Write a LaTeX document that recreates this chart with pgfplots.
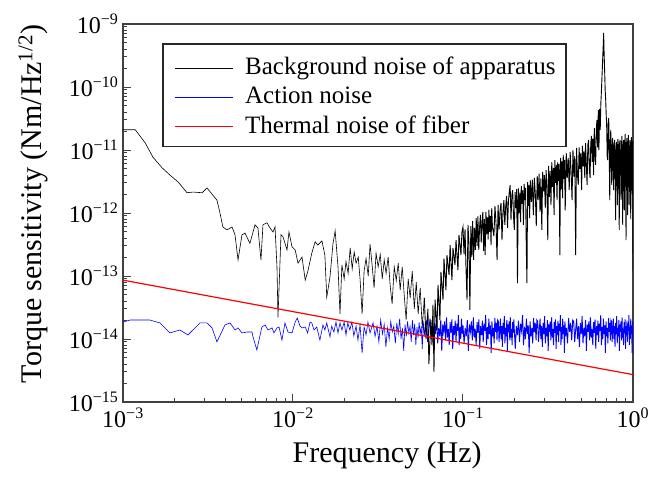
\documentclass[border=0pt]{standalone}
\usepackage{fontspec}
\setmainfont{Liberation Serif}
\usepackage{pgfplots}
\pgfplotsset{compat=1.18}
\definecolor{legblack}{rgb}{0.01,0.01,0.01}
\definecolor{legblue}{rgb}{0.01,0.01,0.99}
\definecolor{legred}{rgb}{0.99,0.01,0.01}
\newcommand{\tl}[1]{10\textsuperscript{\fontsize{16}{16}\selectfont #1}}
\begin{document}
\begin{tikzpicture}
\begin{axis}[
  at={(123pt,77pt)}, anchor=south west,
  scale only axis, width=510pt, height=378pt,
  xmode=log, ymode=log,
  xmin=1e-3, xmax=1, ymin=1e-15, ymax=1e-9,
  clip mode=individual,
  tick pos=left, tick align=inside,
  xtick={0.001,0.01,0.1,1},
  xticklabels={\tl{−3},\tl{−2},\tl{−1},\tl{0}},
  ytick={1e-15,1e-14,1e-13,1e-12,1e-11,1e-10,1e-9},
  yticklabels={\tl{−15},\tl{−14},\tl{−13},\tl{−12},\tl{−11},\tl{−10},\tl{−9}},
  minor xtick={0.002,0.003,0.004,0.005,0.006,0.007,0.008,0.009,0.02,0.03,0.04,0.05,0.06,0.07,0.08,0.09,0.2,0.3,0.4,0.5,0.6,0.7,0.8,0.9},
  minor ytick={2e-15,3e-15,4e-15,5e-15,6e-15,7e-15,8e-15,9e-15,2e-14,3e-14,4e-14,5e-14,6e-14,7e-14,8e-14,9e-14,2e-13,3e-13,4e-13,5e-13,6e-13,7e-13,8e-13,9e-13,2e-12,3e-12,4e-12,5e-12,6e-12,7e-12,8e-12,9e-12,2e-11,3e-11,4e-11,5e-11,6e-11,7e-11,8e-11,9e-11,2e-10,3e-10,4e-10,5e-10,6e-10,7e-10,8e-10,9e-10},
  major tick length=8pt, minor tick length=4pt,
  axis line style={line width=1.3pt, black!75},
  tick style={line width=1pt, black!75},
  ticklabel style={font=\fontsize{24}{26}\selectfont},
  xticklabel style={yshift=-2pt},
  yticklabel style={xshift=-1pt},
  xlabel={Frequency (Hz)},
  ylabel={Torque sensitivity~(Nm/Hz\textsuperscript{1/2})},
  label style={font=\fontsize{30}{32}\selectfont},
  xlabel style={at={(axis description cs:0.518,-0.14)}, anchor=center},
  ylabel style={at={(axis description cs:-0.176,0.524)}, anchor=center},
]

% Action noise (blue), low-frequency part
\addplot[blue, line width=0.6pt] coordinates {
(0.001,1.86e-14) (0.0011,2.0e-14) (0.00144,2.0e-14) (0.00165,1.8e-14) (0.00189,1.25e-14) (0.00216,1.39e-14) (0.00241,1.16e-14) (0.00284,1.8e-14) (0.00312,1.8e-14) (0.00334,1.5e-14) (0.00357,9.0e-15) (0.00398,1.67e-14) (0.00426,1.8e-14) (0.00456,1.39e-14) (0.00475,1.5e-14) (0.00501,1.25e-14) (0.00536,1.29e-14) (0.00574,1.29e-14) (0.00582,1.08e-14) (0.00613,6.7e-15) (0.00656,1.55e-14) (0.00685,1.67e-14) (0.00713,1.39e-14) (0.00753,1.5e-14) (0.00773,1.25e-14) (0.00805,1.5e-14) (0.00828,1.55e-14) (0.00861,9.6e-15) (0.00897,1.8e-14) (0.00934,1.29e-14) (0.00987,1.25e-14) (0.0103,1.86e-14) (0.0106,2.15e-14) (0.011,1.6e-14) (0.0113,1.5e-14) (0.0118,1.55e-14) (0.0122,1.25e-14) (0.0126,1.86e-14) (0.0129,1.8e-14) (0.0133,1.39e-14) (0.0138,1.55e-14) (0.0144,9.6e-15) (0.015,1.67e-14) (0.0154,1.39e-14) (0.0158,1.8e-14) (0.0165,1.08e-14) (0.0169,1.6e-14) (0.0174,1.29e-14) (0.0179,1.86e-14) (0.0184,1.25e-14) (0.0189,1.8e-14) (0.0194,1.39e-14) (0.020,1.86e-14) (0.0205,1.16e-14) (0.021,1.8e-14) (0.0216,1.39e-14) (0.0222,1.86e-14) (0.0228,1.12e-14) (0.0235,1.6e-14) (0.0241,9.6e-15) (0.0248,1.67e-14) (0.0255,6.0e-15) (0.0262,1.55e-14) (0.0269,1.16e-14) (0.0276,1.86e-14) (0.0284,1.25e-14)
(0.0296,1.8e-14) (0.0304,1.1e-14) (0.0312,1.6e-14) (0.0320,9.0e-15) (0.0328,2.0e-14) (0.0336,1.2e-14) (0.0344,1.7e-14) (0.0352,7.5e-15) (0.0360,1.5e-14) (0.0368,1.0e-14) (0.0376,1.9e-14) (0.0384,1.3e-14) (0.0392,1.6e-14) (0.0400,8.5e-15) (0.0408,1.8e-14) (0.0416,1.2e-14) (0.0424,2.1e-14) (0.0432,1.0e-14) (0.0440,1.5e-14) (0.0448,6.5e-15) (0.0456,1.7e-14) (0.0464,1.1e-14) (0.0472,1.9e-14) (0.0480,1.25e-14) (0.0488,1.6e-14) (0.0496,9.0e-15) (0.0504,2.0e-14) (0.0512,1.15e-14) (0.0520,1.75e-14) (0.0528,8.0e-15) (0.0536,1.55e-14) (0.0544,1.05e-14) (0.0552,1.85e-14) (0.0560,1.2e-14) (0.0568,1.6e-14) (0.0576,7.0e-15) (0.0584,1.9e-14) (0.0592,1.1e-14) (0.0600,1.7e-14)
};
% Action noise (blue), dense high-frequency part
\addplot[blue, line width=0.9pt] coordinates {
(0.0600,1.7e-14)
(0.061,1.9e-14) (0.062,9.0e-15) (0.063,1.4e-14) (0.064,2.1e-14) (0.065,1.0e-14) (0.066,1.6e-14) (0.067,7.5e-15) (0.068,1.8e-14) (0.069,1.2e-14) (0.070,2.3e-14) (0.071,8.5e-15) (0.072,1.5e-14) (0.073,1.1e-14) (0.074,2.0e-14) (0.075,6.5e-15) (0.076,1.7e-14) (0.077,1.3e-14) (0.078,1.9e-14) (0.079,9.5e-15) (0.080,2.2e-14) (0.081,1.05e-14) (0.082,1.45e-14) (0.083,8.0e-15) (0.084,1.85e-14) (0.085,1.25e-14) (0.086,2.05e-14) (0.087,7.0e-15) (0.088,1.6e-14) (0.089,1.15e-14) (0.090,1.95e-14) (0.091,9.0e-15) (0.092,1.75e-14) (0.093,1.35e-14) (0.094,2.4e-14) (0.095,8.0e-15) (0.096,1.55e-14) (0.097,1.0e-14) (0.098,2.1e-14) (0.099,1.2e-14) (0.100,1.65e-14)
(0.1015,8.5e-15) (0.1030,1.5e-14) (0.1045,1.1e-14) (0.1060,2.0e-14) (0.1075,6.5e-15) (0.1090,1.7e-14) (0.1105,1.3e-14) (0.1120,1.9e-14) (0.1135,9.5e-15) (0.1150,2.2e-14) (0.1165,1.05e-14) (0.1180,1.45e-14) (0.1195,8.0e-15) (0.1210,1.85e-14) (0.1225,1.25e-14) (0.1240,2.05e-14) (0.1255,7.0e-15) (0.1270,1.6e-14) (0.1285,1.15e-14) (0.1300,1.95e-14) (0.1315,9.0e-15) (0.1330,1.75e-14) (0.1345,1.35e-14) (0.1360,2.4e-14) (0.1375,8.0e-15) (0.1390,1.55e-14) (0.1405,1.0e-14) (0.1420,2.1e-14) (0.1435,1.2e-14) (0.1450,1.65e-14) (0.1465,6.0e-15) (0.1480,1.9e-14) (0.1495,1.1e-14) (0.1510,1.5e-14) (0.1525,8.5e-15) (0.1540,2.15e-14) (0.1555,1.3e-14) (0.1570,1.8e-14) (0.1585,9.5e-15) (0.1600,2.0e-14) (0.1615,1.9e-14) (0.1630,9.0e-15) (0.1645,1.4e-14) (0.1660,2.1e-14) (0.1675,1.0e-14) (0.1690,1.6e-14) (0.1705,7.5e-15) (0.1720,1.8e-14) (0.1735,1.2e-14) (0.1750,2.3e-14) (0.1765,8.5e-15) (0.1780,1.5e-14) (0.1795,1.1e-14) (0.1810,2.0e-14) (0.1825,6.5e-15) (0.1840,1.7e-14) (0.1855,1.3e-14) (0.1870,1.9e-14) (0.1885,9.5e-15) (0.1900,2.2e-14) (0.1915,1.05e-14) (0.1930,1.45e-14) (0.1945,8.0e-15) (0.1960,1.85e-14) (0.1975,1.25e-14) (0.1990,2.05e-14)
(0.203,7.0e-15) (0.206,1.6e-14) (0.209,1.15e-14) (0.212,1.95e-14) (0.215,9.0e-15) (0.218,1.75e-14) (0.221,1.35e-14) (0.224,2.4e-14) (0.227,8.0e-15) (0.230,1.55e-14) (0.233,1.0e-14) (0.236,2.1e-14) (0.239,1.2e-14) (0.242,1.65e-14) (0.245,6.0e-15) (0.248,1.9e-14) (0.251,1.1e-14) (0.254,1.5e-14) (0.257,8.5e-15) (0.260,2.15e-14) (0.263,1.3e-14) (0.266,1.8e-14) (0.269,9.5e-15) (0.272,2.0e-14) (0.275,1.9e-14) (0.278,9.0e-15) (0.281,1.4e-14) (0.284,2.1e-14) (0.287,1.0e-14) (0.290,1.6e-14) (0.293,7.5e-15) (0.296,1.8e-14) (0.299,1.2e-14) (0.302,2.3e-14) (0.305,8.5e-15) (0.308,1.5e-14) (0.311,1.1e-14) (0.314,2.0e-14) (0.317,6.5e-15) (0.320,1.7e-14) (0.323,1.3e-14) (0.326,1.9e-14) (0.329,9.5e-15) (0.332,2.2e-14) (0.335,1.05e-14) (0.338,1.45e-14) (0.341,8.0e-15) (0.344,1.85e-14) (0.347,1.25e-14) (0.350,2.05e-14) (0.353,7.0e-15) (0.356,1.6e-14) (0.359,1.15e-14) (0.362,1.95e-14) (0.365,9.0e-15) (0.368,1.75e-14) (0.371,1.35e-14) (0.374,2.4e-14) (0.377,8.0e-15) (0.380,1.55e-14) (0.383,1.0e-14) (0.386,2.1e-14) (0.389,1.2e-14) (0.392,1.65e-14) (0.395,6.0e-15) (0.398,1.9e-14) (0.401,1.1e-14)
(0.406,1.5e-14) (0.412,8.5e-15) (0.418,2.15e-14) (0.424,1.3e-14) (0.430,1.8e-14) (0.436,9.5e-15) (0.442,2.0e-14) (0.448,1.9e-14) (0.454,9.0e-15) (0.460,1.4e-14) (0.466,2.1e-14) (0.472,1.0e-14) (0.478,1.6e-14) (0.484,7.5e-15) (0.490,1.8e-14) (0.496,1.2e-14) (0.502,2.3e-14) (0.508,8.5e-15) (0.514,1.5e-14) (0.520,1.1e-14) (0.526,2.0e-14) (0.532,6.5e-15) (0.538,1.7e-14) (0.544,1.3e-14) (0.550,1.9e-14) (0.556,9.5e-15) (0.562,2.2e-14) (0.568,1.05e-14) (0.574,1.45e-14) (0.580,8.0e-15) (0.586,1.85e-14) (0.592,1.25e-14) (0.598,2.05e-14) (0.604,7.0e-15) (0.610,1.6e-14) (0.616,1.15e-14) (0.622,1.95e-14) (0.628,9.0e-15) (0.634,1.75e-14) (0.640,1.35e-14) (0.646,2.4e-14) (0.652,8.0e-15) (0.658,1.55e-14) (0.664,1.0e-14) (0.670,2.1e-14) (0.676,1.2e-14) (0.682,1.65e-14) (0.688,6.0e-15) (0.694,1.9e-14) (0.700,1.1e-14) (0.706,1.5e-14) (0.712,8.5e-15) (0.718,2.15e-14) (0.724,1.3e-14) (0.730,1.8e-14) (0.736,9.5e-15) (0.742,2.0e-14) (0.748,1.9e-14) (0.754,9.0e-15) (0.760,1.4e-14) (0.766,2.1e-14) (0.772,1.0e-14) (0.778,1.6e-14) (0.784,7.5e-15) (0.790,1.8e-14) (0.796,1.2e-14) (0.802,2.3e-14) (0.808,8.5e-15) (0.814,1.5e-14) (0.820,1.1e-14) (0.826,2.0e-14) (0.832,6.5e-15) (0.838,1.7e-14) (0.844,1.3e-14) (0.850,1.9e-14) (0.856,9.5e-15) (0.862,2.2e-14) (0.868,1.05e-14) (0.874,1.45e-14) (0.880,8.0e-15) (0.886,1.85e-14) (0.892,1.25e-14) (0.898,2.05e-14) (0.904,7.0e-15) (0.910,1.6e-14) (0.916,1.15e-14) (0.922,1.95e-14) (0.928,9.0e-15) (0.934,1.75e-14) (0.940,1.35e-14) (0.946,2.4e-14) (0.952,8.0e-15) (0.958,1.55e-14) (0.964,1.0e-14) (0.970,2.1e-14) (0.976,1.2e-14) (0.982,1.65e-14) (0.988,6.0e-15) (0.994,1.9e-14) (1.000,1.1e-14)
};

% Background noise (black), low-frequency part
\addplot[black, line width=0.6pt] coordinates {
(0.001,2.1e-11) (0.00118,2.1e-11) (0.00135,1.3e-11) (0.0015,7.7e-12) (0.0017,5.2e-12) (0.00189,4.0e-12) (0.00211,3.1e-12) (0.00238,2.1e-12) (0.00258,2.15e-12) (0.00292,2.1e-12) (0.00312,2.5e-12) (0.00357,1.6e-12) (0.00372,1.0e-12) (0.00387,6.0e-13) (0.00409,5.4e-13) (0.00438,6.0e-13) (0.00456,4.5e-13) (0.00475,1.8e-13) (0.00501,4.5e-13) (0.00522,4.8e-13) (0.00558,3.3e-13) (0.00598,6.5e-13) (0.00622,5.8e-13) (0.00648,1.8e-13) (0.00666,6.5e-13) (0.00703,7.0e-13) (0.00732,5.8e-13) (0.00763,5.0e-13) (0.00784,6.0e-13) (0.00805,1.4e-13) (0.00816,2.2e-14) (0.0085,4.5e-13) (0.00873,4.2e-13) (0.00922,2.6e-13) (0.00947,5.0e-13) (0.00987,2.9e-13) (0.0103,2.6e-13) (0.0107,1.6e-13) (0.0113,2.0e-13) (0.0118,8.6e-14) (0.0122,1.16e-13) (0.0129,2.3e-13) (0.0135,3.5e-13) (0.0140,3.1e-13) (0.0148,3.6e-13) (0.0154,2.15e-13) (0.0158,4.6e-14) (0.0165,9.6e-14) (0.0172,3.3e-13) (0.0177,5.2e-13) (0.0184,1.4e-13)
(0.0189,2.5e-14) (0.0194,1.5e-13) (0.0200,9.0e-14) (0.0205,1.7e-13) (0.0211,1.1e-13) (0.0217,2.8e-13) (0.0223,1.3e-13) (0.0229,2.4e-13) (0.0235,1.6e-13) (0.0242,2.0e-13) (0.0248,9.0e-14) (0.0255,2.5e-14) (0.0262,1.2e-13) (0.0269,1.9e-13) (0.0277,1.0e-13) (0.0284,3.2e-13) (0.0292,1.5e-13) (0.0300,6.5e-14) (0.0308,2.3e-13) (0.0317,1.4e-13) (0.0326,2.2e-13) (0.0335,9.0e-14) (0.0344,1.8e-13) (0.0353,1.1e-13) (0.0363,2.0e-13) (0.0373,7.0e-14) (0.0383,3.6e-14) (0.0394,1.4e-13) (0.0405,8.5e-14) (0.0416,1.6e-13) (0.0427,6.0e-14) (0.0439,1.4e-13) (0.0451,5.0e-14) (0.0463,2.0e-14) (0.0476,9.0e-14) (0.0489,4.5e-14) (0.0503,1.2e-13) (0.0517,3.0e-14) (0.0531,8.0e-14) (0.0545,2.5e-14) (0.0560,6.5e-14) (0.0576,1.5e-14) (0.0592,4.5e-14)
};
% Background noise (black), dense high-frequency part
\addplot[black, line width=0.9pt] coordinates {
(0.0592,4.5e-14)
(0.0606,1.0e-14) (0.0622,3.0e-14) (0.0630,4.0e-15) (0.0648,2.0e-14) (0.0657,8.0e-15) (0.0666,3.5e-14) (0.0675,3.0e-15) (0.0685,4.2e-14) (0.0703,1.4e-14) (0.0713,7.2e-14) (0.0732,2.0e-14) (0.0742,1.16e-13) (0.0763,4.2e-14) (0.0773,1.9e-13) (0.0794,6.0e-14) (0.0805,2.15e-13) (0.0828,1.04e-13) (0.084,3.1e-13) (0.0861,8.6e-14) (0.0873,2.8e-13) (0.0897,1.5e-13) (0.091,3.7e-13) (0.0934,1.24e-13) (0.0947,4.5e-13) (0.0973,2.15e-13) (0.0986,5.0e-13)
(0.1000,6.0e-13) (0.1014,2.2e-13) (0.1028,5.5e-13) (0.1042,1.3e-13) (0.1056,4.2e-14) (0.1070,6.5e-13) (0.1084,3.2e-13) (0.1098,2.9e-14) (0.1112,6.2e-13) (0.1126,2.0e-13) (0.1140,7.5e-13) (0.1154,1.8e-13) (0.1168,5.8e-13) (0.1182,2.6e-13) (0.1196,8.3e-13)
(0.1210,3.0e-13) (0.1224,8.8e-13) (0.1238,2.6e-13) (0.1252,6.0e-13) (0.1266,9.3e-13) (0.1280,3.4e-13) (0.1294,7.0e-13) (0.1308,1.04e-12) (0.1322,2.5e-13) (0.1336,8.0e-13) (0.1350,2.15e-13) (0.1364,1.04e-12) (0.1378,4.6e-13) (0.1392,8.5e-13) (0.1406,3.8e-13) (0.1420,1.12e-12) (0.1434,5.0e-13) (0.1448,9.0e-13) (0.1462,3.1e-13) (0.1476,1.2e-12) (0.1490,6.0e-13)
(0.1520,4.3e-13) (0.1542,1.29e-12) (0.1564,7.0e-13) (0.1586,1.8e-13) (0.1608,1.34e-12) (0.1630,5.5e-13) (0.1652,1.1e-12) (0.1674,1.44e-12) (0.1696,3.7e-13) (0.1718,1.0e-12) (0.1740,1.6e-12) (0.1762,6.5e-13) (0.1784,1.3e-12) (0.1806,1.86e-12) (0.1828,5.8e-13) (0.1850,1.5e-12) (0.1872,2.2e-12) (0.1894,2.78e-12) (0.1916,7.7e-13) (0.1938,1.9e-12) (0.1960,2.3e-12) (0.1982,9.0e-13) (0.2004,5.4e-13) (0.2026,2.15e-12) (0.2048,1.2e-12) (0.2070,2.4e-12) (0.2092,7.7e-14) (0.2114,2.5e-12) (0.2136,1.0e-12) (0.2158,2.1e-12) (0.2180,7.2e-13) (0.2202,2.7e-12) (0.2224,1.4e-12) (0.2246,2.3e-12) (0.2268,6.5e-13) (0.2290,2.9e-12) (0.2312,1.6e-12) (0.2334,2.5e-12) (0.2356,3.0e-13) (0.2378,7.7e-14) (0.2400,3.1e-12) (0.2422,1.3e-12) (0.2444,2.8e-12) (0.2466,8.3e-13) (0.2488,3.3e-12)
(0.2523,1.5e-12) (0.2558,3.4e-12) (0.2593,9.3e-13) (0.2628,3.6e-12) (0.2663,2.0e-12) (0.2698,6.2e-13) (0.2733,3.9e-12) (0.2768,1.6e-12) (0.2803,4.2e-12) (0.2838,1.04e-12) (0.2873,3.5e-12) (0.2908,5.4e-13) (0.2943,4.5e-12) (0.2978,2.2e-12) (0.3013,4.0e-12) (0.3048,1.2e-12) (0.3083,4.8e-12) (0.3118,2.5e-12) (0.3153,3.7e-13) (0.3188,5.6e-12) (0.3223,1.8e-12) (0.3258,4.6e-12) (0.3293,1.34e-12) (0.3328,6.4e-12) (0.3363,2.6e-12) (0.3398,5.2e-12) (0.3433,9.3e-13) (0.3468,6.9e-12) (0.3503,3.0e-12) (0.3538,5.8e-12) (0.3573,1.6e-12) (0.3608,6.4e-12) (0.3643,3.2e-12) (0.3678,6.0e-12) (0.3713,2.15e-13) (0.3748,7.5e-12) (0.3783,2.4e-12) (0.3818,6.6e-12) (0.3853,1.73e-12) (0.3888,8.4e-12) (0.3923,3.5e-12) (0.3958,7.0e-12) (0.3993,1.1e-12)
(0.4050,9.0e-12) (0.4105,3.6e-12) (0.4160,7.5e-12) (0.4215,2.3e-12) (0.4270,9.3e-12) (0.4325,4.5e-12) (0.4380,1.6e-12) (0.4435,1.0e-11) (0.4490,3.8e-12) (0.4545,8.0e-12) (0.4600,2.15e-13) (0.4655,1.08e-11) (0.4710,4.2e-12) (0.4765,2.8e-12) (0.4820,1.1e-11) (0.4875,5.0e-12) (0.4930,9.0e-12) (0.4985,2.3e-12) (0.5040,1.16e-11) (0.5095,5.5e-12) (0.5150,9.5e-12) (0.5205,3.6e-12) (0.5260,1.29e-11) (0.5315,6.0e-12) (0.5370,2.8e-12) (0.5425,1.2e-11) (0.5480,1.44e-11) (0.5535,5.0e-12) (0.5590,3.6e-12) (0.5645,1.3e-11) (0.5700,1.67e-11) (0.5755,6.5e-12) (0.5810,1.5e-11) (0.5865,4.0e-12) (0.5920,2.23e-11) (0.5975,9.0e-12) (0.6030,5.8e-12) (0.6085,2.2e-11) (0.6140,3.0e-11) (0.6195,1.1e-11) (0.6250,4.3e-11) (0.6305,1.0e-11) (0.6360,4.5e-11) (0.6415,2.08e-11) (0.6470,5.5e-11) (0.6525,9.0e-11)
(0.6580,1.6e-10) (0.6630,2.7e-10) (0.6680,4.5e-10) (0.6720,7.2e-10) (0.6760,3.5e-10) (0.6810,1.86e-10) (0.6860,9.0e-11) (0.6910,6.2e-11) (0.6960,3.5e-11)
(0.700,2.5e-11) (0.705,8.0e-12) (0.710,6.9e-12) (0.715,2.8e-11) (0.720,3.2e-11) (0.725,9.0e-12) (0.730,1.6e-12) (0.735,1.2e-11) (0.740,2.08e-11) (0.745,6.0e-12) (0.750,2.8e-12) (0.755,1.4e-11) (0.760,1.55e-11) (0.765,4.5e-12) (0.770,2.3e-12) (0.775,1.2e-11) (0.780,1.44e-11) (0.785,5.0e-12) (0.790,7.7e-13) (0.795,1.1e-11) (0.800,1.34e-11) (0.805,3.5e-12) (0.810,1.34e-12) (0.815,1.5e-11) (0.820,1.2e-11) (0.825,4.0e-12) (0.830,5.4e-13) (0.835,1.3e-11) (0.840,1.44e-11) (0.845,6.0e-12) (0.850,1.6e-12) (0.855,1.0e-11) (0.860,1.67e-11) (0.865,3.0e-12) (0.870,6.5e-13) (0.875,1.2e-11) (0.880,1.44e-11) (0.885,5.0e-12) (0.890,1.1e-12) (0.895,1.3e-11) (0.900,1.8e-11) (0.905,4.0e-12) (0.910,3.7e-13) (0.915,1.0e-11) (0.920,1.55e-11) (0.925,6.0e-12) (0.930,9.3e-13) (0.935,1.2e-11) (0.940,1.73e-11) (0.945,3.5e-12) (0.950,1.34e-12) (0.955,1.1e-11) (0.960,1.44e-11) (0.965,5.0e-12) (0.970,8.0e-13) (0.975,1.3e-11) (0.980,1.6e-11) (0.985,4.5e-12) (0.990,2.0e-12) (0.995,1.4e-11) (1.000,1.2e-13)
};

% Thermal noise (red)
\addplot[red, line width=1.2pt] coordinates {(0.001,8.6e-14) (0.01,2.72e-14) (0.1,8.6e-15) (1,2.72e-15)};

% Legend sample lines, drawn as plots in axis units (colours given unique specs)
\addplot[legblack, line width=1pt] coordinates {(0.002022,2.00e-10) (0.004437,2.00e-10)};
\addplot[legblue, line width=1pt] coordinates {(0.002022,6.93e-11) (0.004437,6.93e-11)};
\addplot[legred, line width=1pt] coordinates {(0.002022,2.40e-11) (0.004437,2.40e-11)};

% Legend frame and texts
\draw[black!85, line width=1.2pt] (axis description cs:0.0784,0.947) rectangle (axis description cs:0.8686,0.677);
\node[anchor=base west, inner sep=0pt, font=\fontsize{25}{28}\selectfont] at (axis description cs:0.2392,0.8677) {Background noise of apparatus};
\node[anchor=base west, inner sep=0pt, font=\fontsize{25}{28}\selectfont] at (axis description cs:0.2392,0.791) {Action noise};
\node[anchor=base west, inner sep=0pt, font=\fontsize{25}{28}\selectfont] at (axis description cs:0.2392,0.7116) {Thermal noise of fiber};
\end{axis}
\pgfresetboundingbox
\useasboundingbox (0,0) rectangle (669pt,479pt);
\end{tikzpicture}
\end{document}
